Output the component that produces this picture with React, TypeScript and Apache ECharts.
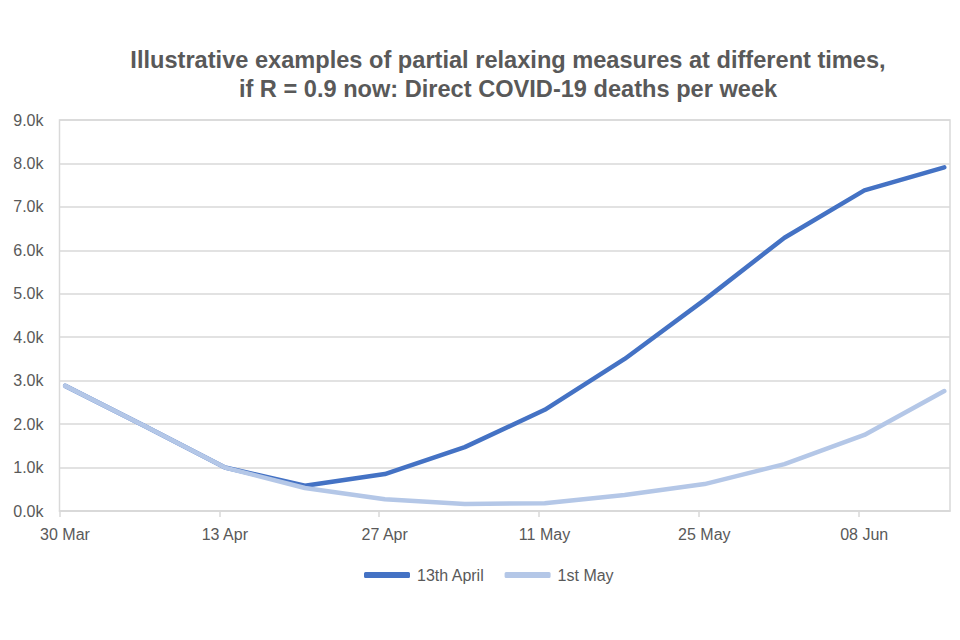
import React, { useEffect, useRef } from "react";
import * as echarts from "echarts";

const titleLines = [
  "Illustrative examples of partial relaxing measures at different times,",
  "if R = 0.9 now: Direct COVID-19 deaths per week",
];
const weekDates = [
  "2020-03-30", "2020-04-06", "2020-04-13", "2020-04-20", "2020-04-27", "2020-05-04",
  "2020-05-11", "2020-05-18", "2020-05-25", "2020-06-01", "2020-06-08", "2020-06-15",
];
const seriesNames = ["13th April", "1st May"];
const april13 = [2880, 1950, 1000, 580, 850, 1470, 2330, 3500, 4860, 6290, 7380, 7910];
const may1 = [2880, 1950, 1000, 530, 270, 160, 180, 370, 620, 1080, 1750, 2760];
const xTickDays = [0, 14, 28, 42, 56, 70];
const yTicks = [0, 1000, 2000, 3000, 4000, 5000, 6000, 7000, 8000, 9000];

const MONTHS = ["Jan", "Feb", "Mar", "Apr", "May", "Jun", "Jul", "Aug", "Sep", "Oct", "Nov", "Dec"];
const BASE = Date.UTC(2020, 2, 30);
const DAY = 86400000;
const dayOf = (s: string) => {
  const [y, m, d] = s.split("-").map(Number);
  return (Date.UTC(y, m - 1, d) - BASE) / DAY;
};
const fmtDay = (v: number) => {
  const dt = new Date(BASE + Math.round(v) * DAY);
  const d = dt.getUTCDate();
  return (d < 10 ? "0" + d : "" + d) + " " + MONTHS[dt.getUTCMonth()];
};

export default function App() {
  const ref = useRef<HTMLDivElement>(null);
  useEffect(() => {
    if (!ref.current) return;
    const chart = echarts.init(ref.current, undefined, { renderer: "svg" });
    const font = "'Liberation Sans', Arial, sans-serif";
    const toPts = (vals: number[]) => weekDates.map((d, i) => [dayOf(d) + 0.5, vals[i]]);
    chart.setOption({
      animation: false,
      backgroundColor: "#ffffff",
      title: {
        text: titleLines.join("\n"),
        left: 503,
        top: 40,
        textAlign: "center",
        textStyle: {
          fontFamily: font,
          fontWeight: "bold",
          fontSize: 23.6,
          lineHeight: 29,
          color: "#595959",
        },
      },
      legend: {
        bottom: 52,
        left: 359,
        itemWidth: 46,
        itemHeight: 6,
        itemGap: 20,
        icon: "roundRect",
        textStyle: { fontFamily: font, fontSize: 16, color: "#595959", padding: [0, 0, 0, 2] },
        data: seriesNames,
      },
      grid: {
        left: 59.5,
        right: 10,
        top: 120,
        bottom: 129,
        show: true,
        borderColor: "#d9d9d9",
        borderWidth: 1.5,
      },
      xAxis: {
        type: "value",
        min: 0,
        max: 78,
        interval: 14,
        axisLine: { show: true, lineStyle: { color: "#d9d9d9", width: 1.5 } },
        axisTick: { show: true, length: 6, customValues: xTickDays, lineStyle: { color: "#d9d9d9", width: 1.5 } },
        splitLine: { show: false },
        axisLabel: {
          customValues: xTickDays,
          formatter: (v: number) => fmtDay(v),
          fontFamily: font,
          fontSize: 16,
          color: "#595959",
          margin: 15,
          padding: [0, 0, 0, 11],
        },
      },
      yAxis: {
        type: "value",
        min: 0,
        max: 9000,
        interval: 1000,
        axisLine: { show: false },
        axisTick: { show: false },
        splitLine: { show: true, lineStyle: { color: "#d9d9d9", width: 1.5 } },
        axisLabel: {
          customValues: yTicks,
          formatter: (v: number) => (v / 1000).toFixed(1) + "k",
          fontFamily: font,
          fontSize: 16,
          color: "#595959",
          margin: 16,
        },
      },
      series: [
        {
          name: seriesNames[0],
          type: "line",
          data: toPts(april13),
          showSymbol: false,
          symbol: "none",
          lineStyle: { color: "#4472C4", width: 4.5, cap: "round", join: "round" },
          itemStyle: { color: "#4472C4" },
          z: 2,
        },
        {
          name: seriesNames[1],
          type: "line",
          data: toPts(may1),
          showSymbol: false,
          symbol: "none",
          lineStyle: { color: "#B4C7E7", width: 4.5, cap: "round", join: "round" },
          itemStyle: { color: "#B4C7E7" },
          z: 3,
        },
      ],
    });
    return () => chart.dispose();
  }, []);
  return (
    <div
      ref={ref}
      style={{ position: "fixed", left: 0, top: 0, width: 960, height: 640, background: "#fff" }}
    />
  );
}
